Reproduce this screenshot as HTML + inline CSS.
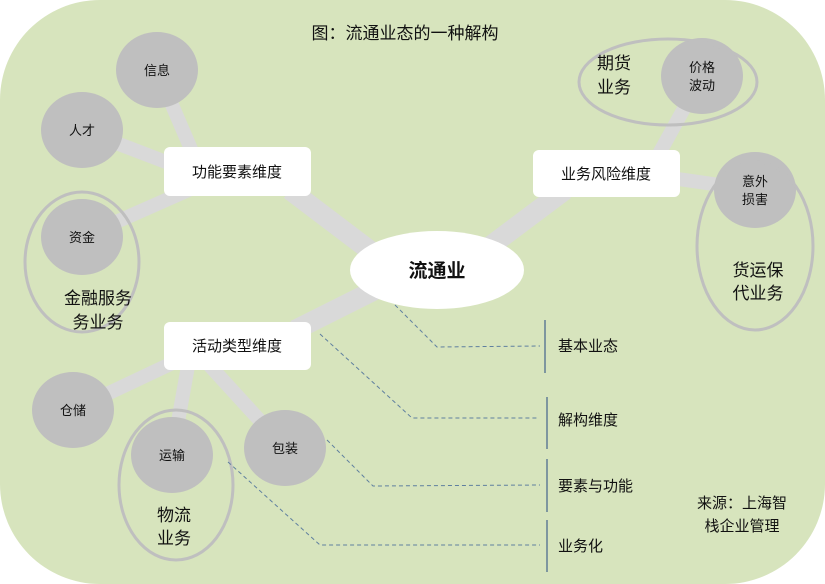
<!DOCTYPE html>
<html><head><meta charset="utf-8"><style>
html,body{margin:0;padding:0;background:#fff;}
svg{display:block;font-family:"Liberation Sans","Noto Sans CJK SC",sans-serif;}
</style></head><body>
<svg width="825" height="584" viewBox="0 0 825 584" xmlns="http://www.w3.org/2000/svg">
<rect x="0" y="0" width="825" height="584" rx="100" ry="100" fill="#d7e4bd"/>
<text x="405" y="39" font-size="17" text-anchor="middle" fill="#111">图：流通业态的一种解构</text>
<g stroke="#d9d9d9" stroke-linecap="butt">
<line x1="290" y1="190" x2="385" y2="262" stroke-width="20"/>
<line x1="565" y1="190" x2="485" y2="250" stroke-width="20"/>
<line x1="295" y1="330" x2="385" y2="285" stroke-width="20"/>
<g stroke-width="14">
<line x1="157" y1="70" x2="200" y2="170"/>
<line x1="82" y1="130" x2="200" y2="175"/>
<line x1="82" y1="237" x2="200" y2="185"/>
<line x1="702" y1="76" x2="650" y2="170"/>
<line x1="755" y1="190" x2="650" y2="175"/>
<line x1="73" y1="410" x2="200" y2="350"/>
<line x1="172" y1="455" x2="190" y2="355"/>
<line x1="285" y1="448" x2="200" y2="355"/>
</g></g>
<rect x="164" y="147" width="147" height="49" rx="6" fill="#fff"/>
<rect x="533" y="150" width="147" height="47" rx="6" fill="#fff"/>
<rect x="164" y="322" width="147" height="48" rx="6" fill="#fff"/>
<g font-size="15" text-anchor="middle" fill="#111">
<text x="237" y="177">功能要素维度</text>
<text x="606" y="179">业务风险维度</text>
<text x="237" y="351">活动类型维度</text>
</g>
<ellipse cx="437" cy="270" rx="87" ry="39" fill="#fff"/>
<text x="437" y="277" font-size="19" font-weight="bold" text-anchor="middle" fill="#111">流通业</text>
<g fill="#bfbfbf">
<ellipse cx="157" cy="70" rx="41" ry="38"/>
<ellipse cx="82" cy="130" rx="41" ry="38"/>
<ellipse cx="82" cy="237" rx="41" ry="38"/>
<ellipse cx="702" cy="76" rx="41" ry="38"/>
<ellipse cx="755" cy="190" rx="41" ry="38"/>
<ellipse cx="73" cy="410" rx="41" ry="38"/>
<ellipse cx="172" cy="455" rx="41" ry="38"/>
<ellipse cx="285" cy="448" rx="41" ry="38"/>
</g>
<g fill="none" stroke="#bfbfbf" stroke-width="3">
<ellipse cx="82" cy="262" rx="57" ry="70"/>
<ellipse cx="668" cy="82" rx="89" ry="43"/>
<ellipse cx="755" cy="246" rx="58" ry="84"/>
<ellipse cx="176" cy="485" rx="57" ry="75"/>
</g>
<g font-size="13" text-anchor="middle" fill="#111">
<text x="157" y="75">信息</text>
<text x="82" y="135">人才</text>
<text x="82" y="242">资金</text>
<text x="702" y="72">价格</text><text x="702" y="90">波动</text>
<text x="755" y="186">意外</text><text x="755" y="204">损害</text>
<text x="73" y="415">仓储</text>
<text x="172" y="460">运输</text>
<text x="285" y="453">包装</text>
</g>
<g font-size="17" text-anchor="middle" fill="#111">
<text x="98" y="304">金融服务</text><text x="98" y="328">务业务</text>
<text x="614" y="69">期货</text><text x="614" y="93">业务</text>
<text x="758" y="276">货运保</text><text x="758" y="299">代业务</text>
<text x="174" y="521">物流</text><text x="174" y="544">业务</text>
</g>
<g stroke="#4f6d8f" stroke-width="1.3">
<line x1="545" y1="320" x2="545" y2="373"/>
<line x1="547" y1="397" x2="547" y2="449"/>
<line x1="547" y1="459" x2="547" y2="512"/>
<line x1="547" y1="520" x2="547" y2="572"/>
</g>
<g fill="none" stroke="#5f7f9f" stroke-width="1" stroke-dasharray="4,3">
<polyline points="395,305 437,347 540,346"/>
<polyline points="320,334 412,418 538,418"/>
<polyline points="327,440 373,486 540,485"/>
<polyline points="228,462 320,545 540,545"/>
</g>
<g font-size="15" fill="#111">
<text x="558" y="351">基本业态</text>
<text x="558" y="425">解构维度</text>
<text x="558" y="491">要素与功能</text>
<text x="558" y="551">业务化</text>
</g>
<g font-size="15" text-anchor="middle" fill="#111">
<text x="742" y="508">来源：上海智</text>
<text x="742" y="531">栈企业管理</text>
</g>
</svg>
</body></html>
